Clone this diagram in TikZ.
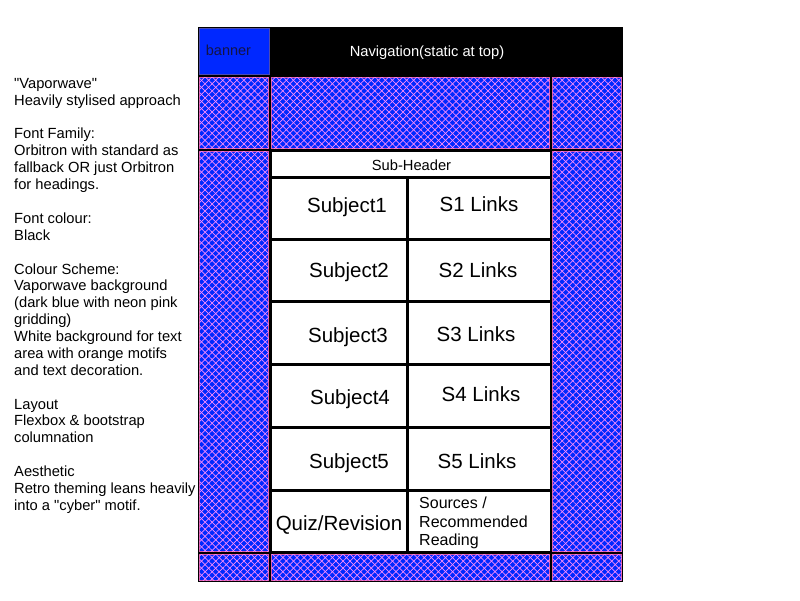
\documentclass[tikz,border=0pt]{standalone}
\usepackage{fontspec}
\setmainfont{Liberation Sans}[Ligatures=TeXOff]
\usetikzlibrary{patterns.meta}
\definecolor{vblue}{RGB}{0,40,255}
\definecolor{vpink}{RGB}{250,140,250}
\definecolor{hedge}{RGB}{220,90,170}
\definecolor{bannertext}{RGB}{20,20,70}
\tikzset{
  hatch/.style={fill=vblue,draw=hedge,line width=0.5pt,
    postaction={pattern={Lines[angle=45,distance=5pt,line width=0.7pt]},pattern color=vpink},
    postaction={pattern={Lines[angle=-45,distance=5pt,line width=0.7pt]},pattern color=vpink}},
  whitecell/.style={fill=white},
  bigtext/.style={font=\fontsize{20.5}{24}\selectfont,inner sep=0pt},
  midtext/.style={font=\fontsize{14.7}{16.88}\selectfont,inner sep=0pt},
}
\begin{document}
\begin{tikzpicture}[x=1pt,y=-1pt]
\useasboundingbox[fill=white] (0,0) rectangle (800,600);
% frame background
\fill[black] (198,27) rectangle (623,582);
% top row
\path[fill=vblue,draw=gray!60!blue,line width=0.6pt] (199.5,28.5) rectangle (269.5,74);
% second row
\path[hatch] (199.5,77) rectangle (268.5,148.5);
\path[hatch] (271.5,77) rectangle (549.5,148.5);
\path[hatch] (552.5,77) rectangle (621.5,148.5);
% side columns
\path[hatch] (199.5,151.5) rectangle (268.5,551);
\path[hatch] (552.5,151.5) rectangle (621.5,551);
% bottom row
\path[hatch] (199.5,554) rectangle (268.5,580.5);
\path[hatch] (271.5,554) rectangle (549.5,580.5);
\path[hatch] (552.5,554) rectangle (621.5,580.5);
% sub-header
\path[whitecell] (271.5,151.5) rectangle (549.5,175.5);
% grid cells
\foreach \ya/\yb in {178.5/238, 241/300, 303/363, 366/426, 429/489, 492/551}{
  \path[whitecell] (271.5,\ya) rectangle (406,\yb);
  \path[whitecell] (409,\ya) rectangle (549.5,\yb);
}
% texts
\node[font=\fontsize{14.5}{16}\selectfont,text=bannertext,inner sep=0pt] (banner) at (228.5,50) {banner};
\node[midtext,text=white] (nav) at (427,52.5) {Navigation(static at top)};
\node[midtext] (sub) at (411.5,165) {Sub-Header};
\node[bigtext] (s1) at (347,207) {Subject1};
\node[bigtext] (l1) at (479,204.5) {S1 Links};
\node[bigtext] (s2) at (349,272) {Subject2};
\node[bigtext] (l2) at (478,270.5) {S2 Links};
\node[bigtext] (s3) at (348,337) {Subject3};
\node[bigtext] (l3) at (476,334.5) {S3 Links};
\node[bigtext] (s4) at (350,399) {Subject4};
\node[bigtext] (l4) at (481,394.5) {S4 Links};
\node[bigtext] (s5) at (349,463) {Subject5};
\node[bigtext] (l5) at (477,461.5) {S5 Links};
\node[bigtext] (quiz) at (339,525) {Quiz/Revision};
\node[anchor=west,align=left,inner sep=0pt,font=\fontsize{16}{18.5}\selectfont] (src) at (419,523) {Sources /\\Recommended\\Reading};
\node[anchor=north west,align=left,inner sep=0pt,font=\fontsize{14.7}{16.88}\selectfont] (notes) at (14,78) {%
"Vaporwave"\\
Heavily stylised approach\\[16.88pt]
Font Family:\\
Orbitron with standard as\\
fallback OR just Orbitron\\
for headings.\\[16.88pt]
Font colour:\\
Black\\[16.88pt]
Colour Scheme:\\
Vaporwave background\\
(dark blue with neon pink\\
gridding)\\
White background for text\\
area with orange motifs\\
and text decoration.\\[16.88pt]
Layout\\
Flexbox \& bootstrap\\
columnation\\[16.88pt]
Aesthetic\\
Retro theming leans heavily\\
into a "cyber" motif.};
\end{tikzpicture}
\end{document}
